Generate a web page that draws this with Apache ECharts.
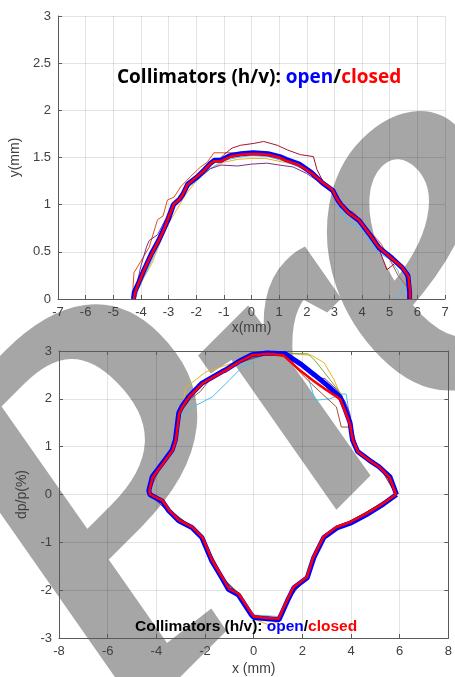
<!DOCTYPE html>
<html><head><meta charset="utf-8">
<script src="https://cdn.jsdelivr.net/npm/echarts@6/dist/echarts.min.js"></script>
<style>html,body{margin:0;padding:0;background:#fff}#c{width:455px;height:677px}</style>
</head><body><div id="c"></div>
<script>
// ---------- top panel: x (mm) vs y (mm) ----------
const topXTicks = [-7,-6,-5,-4,-3,-2,-1,0,1,2,3,4,5,6,7];
const topClosed = [[-4.25,0],[-4.22,0.06],[-4.12,0.14],[-3.88,0.31],[-3.64,0.46],[-3.34,0.63],[-3.16,0.74],[-2.98,0.88],[-2.80,1.01],[-2.62,1.05],[-2.50,1.10],[-2.32,1.21],[-1.96,1.30],[-1.72,1.36],[-1.50,1.43],[-1.36,1.46],[-1.12,1.46],[-0.75,1.51],[-0.40,1.53],[0.08,1.54],[0.62,1.53],[1.00,1.50],[1.23,1.47],[1.71,1.42],[2.19,1.33],[2.55,1.24],[2.92,1.16],[3.10,1.06],[3.22,1.01],[3.52,0.91],[3.88,0.84],[4.24,0.70],[4.60,0.55],[5.08,0.43],[5.44,0.34],[5.68,0.24],[5.74,0.06],[5.74,0]];
const topOpen = [[-4.27,0],[-4.24,0.07],[-4.10,0.16],[-3.90,0.30],[-3.62,0.48],[-3.36,0.62],[-3.14,0.76],[-2.99,0.86],[-2.82,1.00],[-2.60,1.06],[-2.48,1.11],[-2.30,1.22],[-1.98,1.29],[-1.70,1.37],[-1.48,1.44],[-1.34,1.47],[-1.10,1.47],[-0.78,1.52],[-0.38,1.54],[0.06,1.55],[0.60,1.54],[1.02,1.51],[1.25,1.48],[1.73,1.43],[2.17,1.34],[2.57,1.23],[2.94,1.15],[3.12,1.05],[3.24,1.00],[3.50,0.92],[3.90,0.83],[4.26,0.69],[4.62,0.54],[5.06,0.44],[5.46,0.33],[5.66,0.25],[5.72,0.07],[5.72,0]];
const topRunDarkRed = [[-4.25,0],[-4.15,0.12],[-3.9,0.3],[-3.6,0.47],[-3.3,0.65],[-3.0,0.88],[-2.8,1.0],[-2.5,1.1],[-2.3,1.22],[-1.95,1.31],[-1.6,1.40],[-1.2,1.47],[-1.0,1.53],[-0.7,1.60],[-0.39,1.63],[0.1,1.65],[0.44,1.67],[0.93,1.63],[1.3,1.58],[1.77,1.53],[2.24,1.51],[2.37,1.37],[2.6,1.24],[2.95,1.15],[3.25,1.0],[3.55,0.9],[3.9,0.83],[4.25,0.69],[4.6,0.54],[4.9,0.31],[5.2,0.38],[5.45,0.33],[5.65,0.2],[5.72,0]];
const topRunPurple = [[-4.2,0],[-4.15,0.15],[-4.0,0.35],[-3.8,0.55],[-3.7,0.62],[-3.4,0.68],[-3.1,0.85],[-2.9,1.0],[-2.6,1.08],[-2.3,1.2],[-1.9,1.28],[-1.5,1.38],[-1.1,1.42],[-0.5,1.41],[0.0,1.43],[0.57,1.44],[1.0,1.42],[1.5,1.40],[2.0,1.33],[2.5,1.23],[2.9,1.13],[3.2,1.0],[3.6,0.88],[4.0,0.8],[4.3,0.66],[4.7,0.55],[5.0,0.42],[5.4,0.36],[5.6,0.30],[5.75,0.15],[5.75,0]];
const topRunOrange = [[-4.3,0],[-4.28,0.15],[-4.25,0.28],[-4.0,0.4],[-3.7,0.55],[-3.4,0.84],[-3.2,0.88],[-3.04,1.05],[-2.8,1.08],[-2.56,1.19],[-2.2,1.3],[-1.84,1.40],[-1.6,1.45],[-1.36,1.55],[-1.0,1.55],[-0.5,1.55],[0,1.55],[0.5,1.54],[1.0,1.50],[1.6,1.44],[2.1,1.36],[2.5,1.25],[2.9,1.18],[3.2,1.05],[3.4,0.95],[3.7,0.92],[4.1,0.78],[4.4,0.68],[4.7,0.58],[5.0,0.42],[5.3,0.25],[5.5,0.18],[5.7,0.10],[5.78,0]];
const topRunYellow = [[-4.2,0],[-4.1,0.1],[-3.9,0.22],[-3.6,0.38],[-3.3,0.6],[-3.0,0.8],[-2.7,0.95],[-2.4,1.1],[-2.0,1.25],[-1.5,1.38],[-1.0,1.45],[-0.5,1.48],[0,1.49],[0.5,1.49],[1.0,1.46],[1.5,1.43],[2.0,1.36],[2.5,1.26],[2.9,1.16],[3.2,1.02],[3.5,0.93],[3.9,0.82],[4.3,0.70],[4.7,0.55],[5.1,0.45],[5.5,0.33],[5.75,0.2],[5.8,0]];
const topRunLightBlue = [[-4.2,0],[-4.1,0.1],[-3.95,0.2],[-3.7,0.35],[-3.4,0.55],[-3.25,0.65],[-3.05,0.78],[-2.9,0.95],[-2.6,1.05],[-2.3,1.18],[-2.0,1.25],[-1.5,1.38],[-1.0,1.47],[-0.5,1.5],[0,1.52],[0.6,1.51],[1.2,1.46],[1.8,1.39],[2.3,1.3],[2.7,1.2],[3.0,1.1],[3.2,0.95],[3.45,0.82],[3.8,0.78],[4.2,0.65],[4.55,0.5],[5.0,0.42],[5.3,0.3],[5.49,0.13],[5.32,0.02],[5.3,0]];

// ---------- bottom panel: x (mm) vs dp/p (%) ----------
const botXTicks = [-8,-6,-4,-2,0,2,4,6,8];
const botClosed = [[5.85,0],[5.58,0.36],[5.17,0.57],[4.76,0.71],[4.29,0.89],[4.08,1.13],[3.95,1.48],[3.74,1.76],[3.54,2.00],[3.00,2.18],[2.45,2.38],[1.91,2.59],[1.22,2.91],[0.54,2.94],[-0.07,2.91],[-0.61,2.77],[-1.16,2.59],[-1.29,2.56],[-2.11,2.32],[-2.65,2.04],[-2.93,1.83],[-3.06,1.69],[-3.20,1.13],[-3.33,0.92],[-3.74,0.64],[-4.15,0.36],[-4.29,0.08],[-4.25,0.0],[-3.74,-0.13],[-3.47,-0.33],[-3.06,-0.54],[-2.52,-0.68],[-2.11,-0.89],[-1.70,-1.38],[-1.29,-1.73],[-1.02,-1.97],[-0.61,-2.08],[-0.07,-2.50],[0.0,-2.55],[0.54,-2.58],[1.02,-2.60],[1.36,-2.22],[1.63,-1.94],[2.18,-1.73],[2.45,-1.31],[2.86,-0.89],[3.40,-0.68],[3.95,-0.58],[4.62,-0.40],[5.31,-0.19],[5.85,0]];
const botOpen = [[5.87,0],[5.60,0.37],[5.15,0.58],[4.74,0.72],[4.27,0.90],[4.06,1.14],[3.96,1.50],[3.76,1.78],[3.56,2.03],[3.05,2.27],[2.50,2.50],[1.95,2.72],[1.30,2.94],[0.55,2.96],[-0.07,2.92],[-0.62,2.78],[-1.17,2.60],[-1.30,2.57],[-2.12,2.33],[-2.66,2.05],[-2.95,1.84],[-3.08,1.70],[-3.22,1.14],[-3.35,0.93],[-3.76,0.65],[-4.17,0.37],[-4.31,0.08],[-4.27,0.0],[-3.76,-0.14],[-3.49,-0.34],[-3.08,-0.55],[-2.54,-0.69],[-2.13,-0.90],[-1.72,-1.39],[-1.31,-1.74],[-1.04,-1.98],[-0.63,-2.10],[-0.09,-2.52],[0.0,-2.57],[0.54,-2.60],[1.04,-2.62],[1.38,-2.23],[1.65,-1.95],[2.20,-1.74],[2.47,-1.32],[2.88,-0.90],[3.42,-0.70],[3.97,-0.60],[4.64,-0.42],[5.33,-0.20],[5.87,0]];
const botRunYellow = [[5.9,0],[5.2,0.55],[4.3,0.88],[4.05,1.3],[3.9,1.6],[3.6,2.04],[3.3,2.4],[2.9,2.75],[2.38,2.91],[1.14,2.96],[0.5,2.95],[-0.75,2.77],[-1.97,2.56],[-2.79,2.24],[-2.95,1.75],[-3.3,1.0],[-3.8,0.6],[-4.2,0.2],[-4.3,0],[-3.5,-0.35],[-2.6,-0.7],[-2.1,-0.93],[-1.3,-1.75],[-0.6,-2.1],[0,-2.6],[0.6,-2.72],[1.05,-2.66],[1.4,-2.2],[2.2,-1.7],[2.9,-0.87],[3.9,-0.6],[5.3,-0.2],[5.9,0]];
const botRunLightBlue = [[5.85,0],[5.2,0.57],[4.3,0.9],[4.05,1.2],[3.95,1.62],[3.8,2.1],[3.6,2.1],[3.13,2.0],[2.52,1.97],[2.24,2.45],[1.6,2.75],[1.1,2.93],[0.5,2.94],[-0.48,2.66],[-1.02,2.38],[-1.70,2.04],[-2.65,1.79],[-3.0,1.65],[-3.3,1.0],[-3.85,0.63],[-4.28,0.1],[-4.25,0],[-3.5,-0.35],[-2.6,-0.68],[-2.1,-0.92],[-1.3,-1.72],[-0.6,-2.08],[0,-2.52],[1.0,-2.55],[1.4,-2.2],[2.2,-1.72],[2.9,-0.88],[3.95,-0.57],[5.3,-0.18],[5.85,0]];
const botRunPurple = [[5.85,0],[5.2,0.56],[4.3,0.88],[4.1,1.15],[3.95,1.69],[3.75,1.95],[3.4,2.2],[2.93,2.42],[2.65,2.45],[2.0,2.75],[1.2,2.92],[0.5,2.92],[-0.6,2.77],[-1.3,2.57],[-1.97,2.37],[-2.6,2.05],[-3.05,1.7],[-3.3,1.0],[-3.75,0.66],[-4.25,0.12],[-4.28,0],[-3.5,-0.36],[-2.6,-0.69],[-2.1,-0.95],[-1.3,-1.75],[-0.6,-2.1],[0,-2.55],[1.0,-2.58],[1.3,-2.35],[1.7,-2.0],[2.2,-1.75],[2.9,-0.9],[3.9,-0.59],[5.3,-0.2],[5.85,0]];
const botRunBrown = [[5.85,0],[5.2,0.58],[4.3,0.9],[4.02,1.41],[3.6,1.41],[3.4,1.83],[2.38,2.31],[1.97,2.52],[1.3,2.88],[0.5,2.93],[-0.6,2.75],[-1.3,2.55],[-1.8,2.4],[-2.2,2.15],[-2.6,2.0],[-3.0,1.72],[-3.25,1.0],[-3.8,0.62],[-4.2,0.2],[-4.26,0],[-3.5,-0.3],[-2.5,-0.7],[-2.1,-0.9],[-1.3,-1.74],[-0.6,-2.07],[0,-2.54],[1.0,-2.58],[1.4,-2.2],[2.2,-1.72],[2.9,-0.88],[3.9,-0.57],[5.3,-0.18],[5.85,0]];
const botRunGreen = [[5.85,0],[5.2,0.57],[4.3,0.9],[4.05,1.3],[3.9,1.65],[3.6,2.1],[2.52,2.80],[2.24,2.94],[1.2,2.95],[0.5,2.94],[-0.6,2.77],[-1.3,2.56],[-2.1,2.33],[-2.65,2.05],[-3.05,1.7],[-3.3,0.95],[-3.75,0.64],[-4.28,0.1],[-4.26,0],[-3.5,-0.34],[-2.55,-0.68],[-2.1,-0.9],[-1.3,-1.73],[-0.6,-2.08],[0,-2.55],[1.0,-2.6],[1.36,-2.22],[2.2,-1.73],[2.9,-0.89],[3.9,-0.58],[5.3,-0.19],[5.85,0]];
const botRunOrange = [[5.9,0],[5.2,0.6],[4.3,0.92],[4.1,1.1],[3.95,1.45],[3.7,1.8],[3.5,2.0],[3.0,2.2],[2.4,2.4],[1.9,2.6],[1.2,2.92],[0.5,2.93],[-0.6,2.78],[-1.3,2.55],[-2.1,2.3],[-2.6,2.05],[-3.0,1.75],[-3.25,1.1],[-3.4,0.9],[-3.8,0.62],[-4.2,0.3],[-4.32,0.05],[-4.3,0],[-3.7,-0.1],[-3.45,-0.38],[-3.0,-0.5],[-2.5,-0.72],[-2.1,-0.95],[-1.65,-1.35],[-1.3,-1.7],[-1.0,-2.0],[-0.6,-2.1],[0,-2.6],[0.6,-2.6],[1.0,-2.62],[1.4,-2.25],[1.7,-1.9],[2.2,-1.75],[2.5,-1.28],[2.9,-0.85],[3.4,-0.66],[4.0,-0.55],[4.6,-0.38],[5.3,-0.16],[5.9,0]];

const titleText = '{k|Collimators (h/v): }{b|open}{k|/}{r|closed}';
const watermarkLetters = ['P', 'r', 'e'];

const chart = echarts.init(document.getElementById('c'), null, {renderer: 'canvas'});
const axisCol = '#5a5a5a', gridCol = 'rgba(0,0,0,0.11)', labCol = '#404040';
const FONT = '"Liberation Sans", Arial, sans-serif';

function valueAxis(extra) {
  return Object.assign({
    type: 'value', z: 2,
    axisLine: {show: true, onZero: false, lineStyle: {color: axisCol, width: 1}},
    axisTick: {show: true, inside: true, length: 4, lineStyle: {color: axisCol}},
    splitLine: {show: true, lineStyle: {color: gridCol, width: 1}},
    axisLabel: {color: labCol, fontFamily: FONT, fontSize: 13, margin: 7},
    nameTextStyle: {color: labCol, fontFamily: FONT, fontSize: 14},
    nameLocation: 'middle'
  }, extra);
}
function boxAxis(extra) {
  return Object.assign({
    type: 'value', z: 2,
    axisLine: {show: true, onZero: false, lineStyle: {color: axisCol, width: 1}},
    axisTick: {show: true, inside: true, length: 4, lineStyle: {color: axisCol}},
    splitLine: {show: false},
    axisLabel: {show: false}
  }, extra);
}
function line(data, color, width, xi, z) {
  return {type: 'line', data: data, xAxisIndex: xi, yAxisIndex: xi, showSymbol: false, symbol: 'none',
    smooth: false, lineStyle: {color: color, width: width}, z: z || 3, silent: true, animation: false};
}
const rich = (sz, fam) => ({
  k: {color: '#000', fontWeight: 'bold', fontSize: sz, fontFamily: fam},
  b: {color: '#0000ff', fontWeight: 'bold', fontSize: sz, fontFamily: fam},
  r: {color: '#ff0000', fontWeight: 'bold', fontSize: sz, fontFamily: fam}
});

const wmPos = [[132, 522], [305, 375], [419, 245]];
const wmSize = [520, 420, 520];
const wmStyle = {fill: '#a6a6a6', stroke: '#a6a6a6', lineWidth: 14, lineJoin: 'round',
  fontWeight: 'normal', fontStyle: 'italic', fontFamily: '"Liberation Serif"',
  textAlign: 'center', textVerticalAlign: 'middle', align: 'center', verticalAlign: 'middle'};

chart.setOption({
  animation: false,
  backgroundColor: '#fff',
  title: [
    {text: titleText, left: 117, top: 68, padding: 0, z: 8, textStyle: {rich: rich(19, '"Open Sans"')}},
    {text: titleText, left: 135, top: 619, padding: 0, z: 8, textStyle: {rich: rich(15.5, FONT)}}
  ],
  grid: [
    {left: 57, top: 16, width: 388, height: 283, containLabel: false},
    {left: 59, top: 351, width: 392, height: 287, containLabel: false}
  ],
  xAxis: [
    valueAxis({gridIndex: 0, min: topXTicks[0], max: topXTicks[topXTicks.length-1], interval: 1, name: 'x(mm)', nameGap: 22}),
    valueAxis({gridIndex: 1, min: botXTicks[0], max: botXTicks[botXTicks.length-1], interval: 2, name: 'x (mm)', nameGap: 24}),
    boxAxis({gridIndex: 1, position: 'top', min: -8, max: 8, interval: 2})
  ],
  yAxis: [
    valueAxis({gridIndex: 0, min: 0, max: 3, interval: 0.5, name: 'y(mm)', nameGap: 33}),
    valueAxis({gridIndex: 1, min: -3, max: 3, interval: 1, name: 'dp/p(%)', nameGap: 22}),
    boxAxis({gridIndex: 1, position: 'right', min: -3, max: 3, interval: 1})
  ],
  graphic: {elements: watermarkLetters.map((ch, i) => ({
    type: 'text', x: wmPos[i][0], y: wmPos[i][1], rotation: Math.PI / 4, z: 1, silent: true,
    style: Object.assign({text: ch, fontSize: wmSize[i]}, wmStyle)
  }))},
  series: [
    line(topRunYellow, '#EDB120', 1, 0),
    line(topRunLightBlue, '#4DBEEE', 1, 0),
    line(topRunOrange, '#D95319', 1, 0),
    line(topRunPurple, '#7E2F8E', 1, 0),
    line(topRunDarkRed, '#A2142F', 1, 0),
    line(topOpen, '#0000ff', 5, 0, 4),
    line(topClosed, '#ff0000', 2.5, 0, 5),
    line(botRunYellow, '#EDB120', 1, 1),
    line(botRunGreen, '#77AC30', 1, 1),
    line(botRunLightBlue, '#4DBEEE', 1, 1),
    line(botRunOrange, '#D95319', 1, 1),
    line(botRunPurple, '#7E2F8E', 1, 1),
    line(botRunBrown, '#A0522D', 1, 1),
    line(botOpen, '#0000ff', 5, 1, 4),
    line(botClosed, '#ff0000', 2.5, 1, 5)
  ]
});
</script></body></html>
